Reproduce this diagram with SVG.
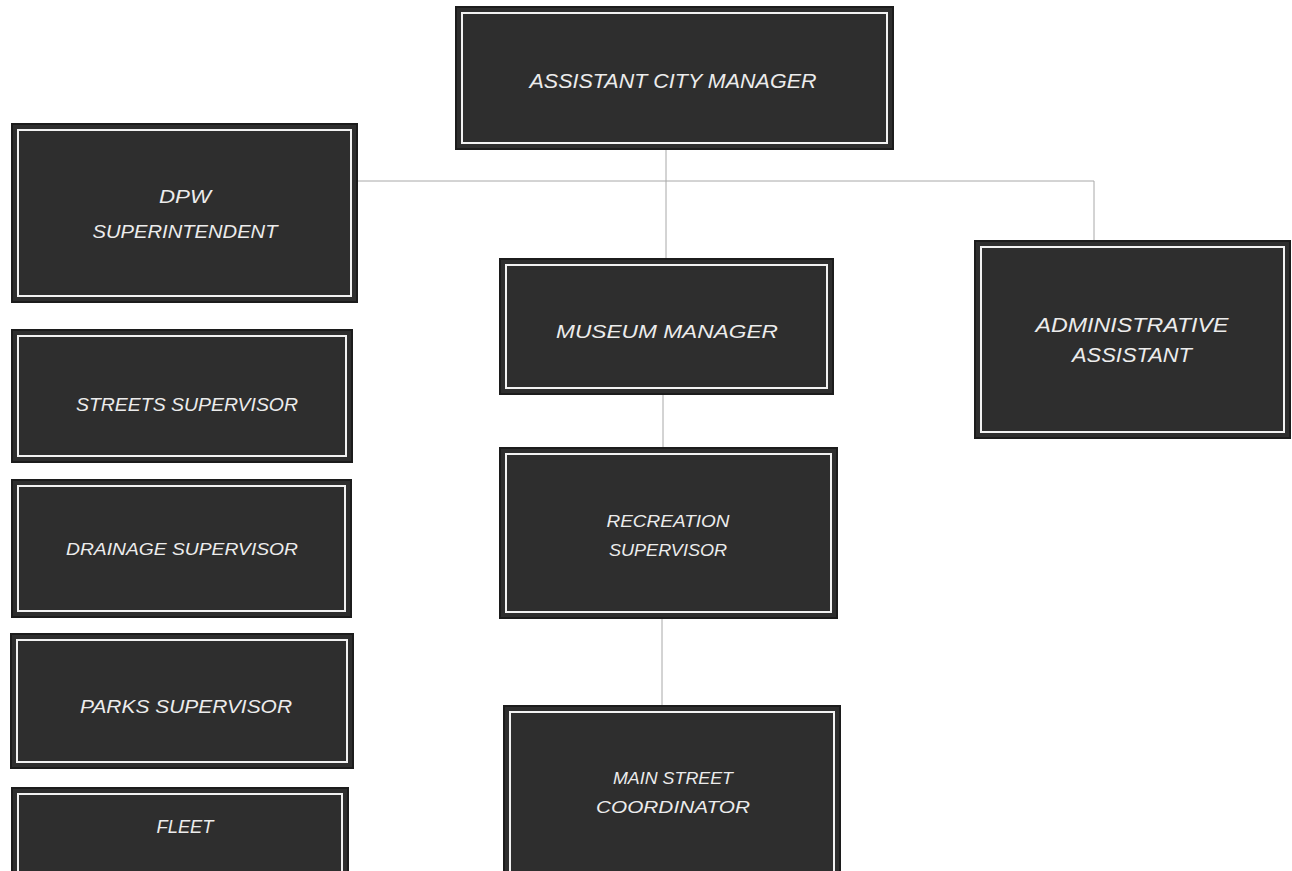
<svg xmlns="http://www.w3.org/2000/svg" width="1292" height="871" viewBox="0 0 1292 871">
<style>
.box{fill:#2e2e2e;stroke:#1c1c1c;stroke-width:2}
.inner{fill:none;stroke:#f2f2f2;stroke-width:2}
.t{font-family:"Liberation Sans",Arial,sans-serif;font-style:italic;fill:#ececec;text-anchor:middle;lengthAdjust:spacingAndGlyphs}
.c{stroke:#a8a8a8;stroke-width:1;fill:none}
</style>
<rect width="1292" height="871" fill="#ffffff"/>
<g id="connectors">
<line class="c" x1="357" y1="181" x2="1094" y2="181"/>
<line class="c" x1="666" y1="149" x2="666" y2="259"/>
<line class="c" x1="1094" y1="181" x2="1094" y2="241"/>
<line class="c" x1="663" y1="394" x2="663" y2="448"/>
<line class="c" x1="662" y1="618" x2="662" y2="706"/>
</g>
<g id="acm">
<rect class="box" x="456" y="7" width="437" height="142"/>
<rect class="inner" x="462" y="13" width="425" height="130"/>
<text class="t" x="673" y="88" font-size="20" textLength="287" lengthAdjust="spacingAndGlyphs">ASSISTANT CITY MANAGER</text>
</g>
<g id="dpw">
<rect class="box" x="12" y="124" width="345" height="178"/>
<rect class="inner" x="18" y="130" width="333" height="166"/>
<text class="t" x="185" y="203" font-size="18" textLength="52" lengthAdjust="spacingAndGlyphs">DPW</text>
<text class="t" x="185" y="238" font-size="18" textLength="185" lengthAdjust="spacingAndGlyphs">SUPERINTENDENT</text>
</g>
<g id="admin">
<rect class="box" x="975" y="241" width="315" height="197"/>
<rect class="inner" x="981" y="247" width="303" height="185"/>
<text class="t" x="1132" y="332" font-size="20" textLength="193" lengthAdjust="spacingAndGlyphs">ADMINISTRATIVE</text>
<text class="t" x="1132" y="362" font-size="20" textLength="120" lengthAdjust="spacingAndGlyphs">ASSISTANT</text>
</g>
<g id="museum">
<rect class="box" x="500" y="259" width="333" height="135"/>
<rect class="inner" x="506" y="265" width="321" height="123"/>
<text class="t" x="667" y="338" font-size="19" textLength="222" lengthAdjust="spacingAndGlyphs">MUSEUM MANAGER</text>
</g>
<g id="recreation">
<rect class="box" x="500" y="448" width="337" height="170"/>
<rect class="inner" x="506" y="454" width="325" height="158"/>
<text class="t" x="668" y="527" font-size="16" textLength="123" lengthAdjust="spacingAndGlyphs">RECREATION</text>
<text class="t" x="668" y="556" font-size="16" textLength="118" lengthAdjust="spacingAndGlyphs">SUPERVISOR</text>
</g>
<g id="mainstreet">
<rect class="box" x="504" y="706" width="336" height="180"/>
<rect class="inner" x="510" y="712" width="324" height="180"/>
<text class="t" x="673" y="784" font-size="16" textLength="120" lengthAdjust="spacingAndGlyphs">MAIN STREET</text>
<text class="t" x="673" y="813" font-size="16" textLength="154" lengthAdjust="spacingAndGlyphs">COORDINATOR</text>
</g>
<g id="streets">
<rect class="box" x="12" y="330" width="340" height="132"/>
<rect class="inner" x="18" y="336" width="328" height="120"/>
<text class="t" x="187" y="411" font-size="18" textLength="222" lengthAdjust="spacingAndGlyphs">STREETS SUPERVISOR</text>
</g>
<g id="drainage">
<rect class="box" x="12" y="480" width="339" height="137"/>
<rect class="inner" x="18" y="486" width="327" height="125"/>
<text class="t" x="182" y="555" font-size="17" textLength="232" lengthAdjust="spacingAndGlyphs">DRAINAGE SUPERVISOR</text>
</g>
<g id="parks">
<rect class="box" x="11" y="634" width="342" height="134"/>
<rect class="inner" x="17" y="640" width="330" height="122"/>
<text class="t" x="186" y="713" font-size="18" textLength="212" lengthAdjust="spacingAndGlyphs">PARKS SUPERVISOR</text>
</g>
<g id="fleet">
<rect class="box" x="12" y="788" width="336" height="100"/>
<rect class="inner" x="18" y="794" width="324" height="100"/>
<text class="t" x="185" y="833" font-size="18" textLength="57" lengthAdjust="spacingAndGlyphs">FLEET</text>
</g>
</svg>
